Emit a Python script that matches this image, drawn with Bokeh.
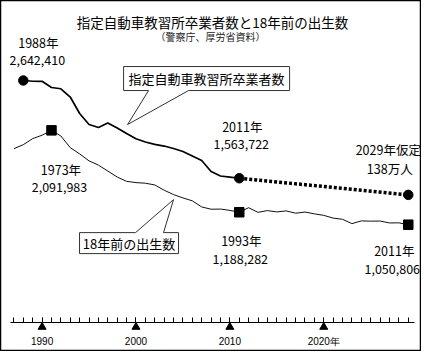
from bokeh.plotting import figure
from bokeh.models import LinearAxis, FixedTicker, Range1d
from bokeh.core.properties import value
from bokeh.embed import file_html
from bokeh.resources import INLINE

# ---------------- data ----------------
grad_years = list(range(1988, 2012))
graduates = [2642410, 2634000, 2633600, 2565000, 2551000, 2460000, 2278000,
             2157000, 2124000, 2173000, 2118000, 2057000, 1999000, 1964000,
             1938000, 1919000, 1892000, 1859000, 1809000, 1759000, 1638000,
             1588000, 1576000, 1563722]
proj_years = [2011, 2029]
projection = [1563722, 1380000]
birth_years = list(range(1969, 2012))
births = [1889815, 1934239, 2000973, 2038682, 2091983, 2029989, 1901440,
          1832617, 1755100, 1708643, 1642580, 1576889, 1529455, 1515392,
          1508687, 1489780, 1431577, 1382946, 1346658, 1314006, 1246802,
          1221585, 1223245, 1208989, 1188282, 1238328, 1187064, 1206555,
          1191665, 1203147, 1177669, 1190547, 1170662, 1153855, 1123610,
          1110721, 1062530, 1092674, 1089818, 1091156, 1070035, 1071304,
          1050806]
LAG = 18
tick_years = [1990, 2000, 2010, 2020]
tick_labels = ["1990", "2000", "2010", "2020年"]
title_text = "指定自動車教習所卒業者数と18年前の出生数"
source_text = "（警察庁、厚労省資料）"
grad_name = "指定自動車教習所卒業者数"
birth_name = "18年前の出生数"

# ---------------- layout ----------------
W, H = 421, 351
X0, X1 = 1985.57, 2030.41
Y0, Y1 = -348760, 3525412
FONT = value("Noto Sans CJK JP")


def dx(px):
    return px * (X1 - X0) / W


def dy(py):
    return -py * (Y1 - Y0) / H


def at(px, py):
    return X0 + dx(px), Y1 + dy(py)


def off(x, y, ox, oy):
    return x + dx(ox), y + dy(oy)


p = figure(width=W, height=H, x_range=Range1d(X0, X1), y_range=Range1d(Y0, Y1),
           x_axis_type=None, y_axis_type=None, output_backend="svg",
           toolbar_location=None, min_border=0)
p.outline_line_color = "black"
p.outline_line_width = 1.5
p.background_fill_color = "white"
p.border_fill_color = "white"

# timeline axis
AXIS_Y = at(0, 322)[1]
ax = LinearAxis(fixed_location=AXIS_Y,
                ticker=FixedTicker(ticks=tick_years,
                                   minor_ticks=list(range(1987, 2030))),
                bounds=(1986.6, 2029.7),
                major_tick_in=5, major_tick_out=0,
                minor_tick_in=5, minor_tick_out=0,
                major_label_overrides={y: l for y, l in zip(tick_years, tick_labels)},
                major_label_standoff=13,
                major_label_text_font_size="10px",
                major_label_text_font="Liberation Sans",
                major_label_text_color="black",
                axis_line_color="black", major_tick_line_color="black",
                minor_tick_line_color="black")
p.add_layout(ax, "below")
tri_y = at(0, 326.5)[1]
p.scatter(tick_years, [tri_y] * len(tick_years), marker="triangle", size=8,
          color="black")

# series
birth_plot_x = [b + LAG for b in birth_years]
p.line(birth_plot_x, births, line_color="#111111", line_width=1.0)
p.line(grad_years, graduates, line_color="black", line_width=1.7)
p.line(proj_years, projection, line_color="black", line_width=3.5,
       line_dash="3 2")

circ_x = [grad_years[0], proj_years[0], proj_years[1]]
circ_y = [graduates[0], projection[0], projection[1]]
p.scatter(circ_x, circ_y, marker="circle", size=9.5, color="black")

sq_idx = [birth_years.index(1973), birth_years.index(1993), birth_years.index(2011)]
sq_x = [birth_plot_x[i] for i in sq_idx]
sq_y = [births[i] for i in sq_idx]
p.scatter(sq_x, sq_y, marker="square", size=9.5, color="black")

# callouts
i99 = grad_years.index(1999)
tipx, tipy = off(grad_years[i99], graduates[i99], 1, -9)
pts = [(-4, -34), (-4, -58), (162, -58), (162, -34), (61, -34), (0, 0), (21, -34)]
cx, cy = zip(*[off(tipx, tipy, a, b) for a, b in pts])
p.patch(list(cx), list(cy), fill_color="white", line_color="#333333", line_width=1)
tx, ty = off(tipx, tipy, 79, -46)
p.text([tx], [ty], text=[grad_name], text_font=FONT, text_font_size="13px",
       text_align="center", text_baseline="middle", text_color="black")

i04 = birth_plot_x.index(2004)
tipx, tipy = off(birth_plot_x[i04], births[i04], 0, 5)
pts = [(-38, 33), (-94, 33), (-94, 54), (5, 54), (5, 33), (-10, 33), (0, 0)]
cx, cy = zip(*[off(tipx, tipy, a, b) for a, b in pts])
p.patch(list(cx), list(cy), fill_color="white", line_color="#333333", line_width=1)
tx, ty = off(tipx, tipy, -44.5, 43.5)
p.text([tx], [ty], text=[birth_name], text_font=FONT, text_font_size="13px",
       text_align="center", text_baseline="middle", text_color="black")

# title
tx, ty = at(212, 21)
p.text([tx], [ty], text=[title_text], text_font=FONT, text_font_size="13.5px",
       text_align="center", text_baseline="middle", text_color="black")
tx, ty = at(210, 36)
p.text([tx], [ty], text=[source_text], text_font=FONT, text_font_size="10px",
       text_align="center", text_baseline="middle", text_color="#222222")

# point labels
labels = [
    (grad_years[0], graduates[0], "1988年", "2,642,410", 15, -38, 14, -20),
    (sq_x[0], sq_y[0], "1973年", "2,091,983", 9.5, 39, 8, 57),
    (proj_years[0], projection[0], "2011年", "1,563,722", 3, -52, 2, -34),
    (proj_years[1], projection[1], "2029年仮定", "138万人", -20, -45, -18.5, -26),
    (sq_x[1], sq_y[1], "1993年", "1,188,282", 2, 28, 1, 46.5),
    (sq_x[2], sq_y[2], "2011年", "1,050,806", -14, 26, -16, 44),
]
lx, ly, lt = [], [], []
for x, y, t1, t2, o1x, o1y, o2x, o2y in labels:
    a = off(x, y, o1x, o1y)
    b = off(x, y, o2x, o2y)
    lx += [a[0], b[0]]
    ly += [a[1], b[1]]
    lt += [t1, t2]
p.text(lx, ly, text=lt, text_font=FONT, text_font_size="12.5px",
       text_align="center", text_baseline="middle", text_color="black")

open("out.html", "w").write(file_html(p, INLINE))
